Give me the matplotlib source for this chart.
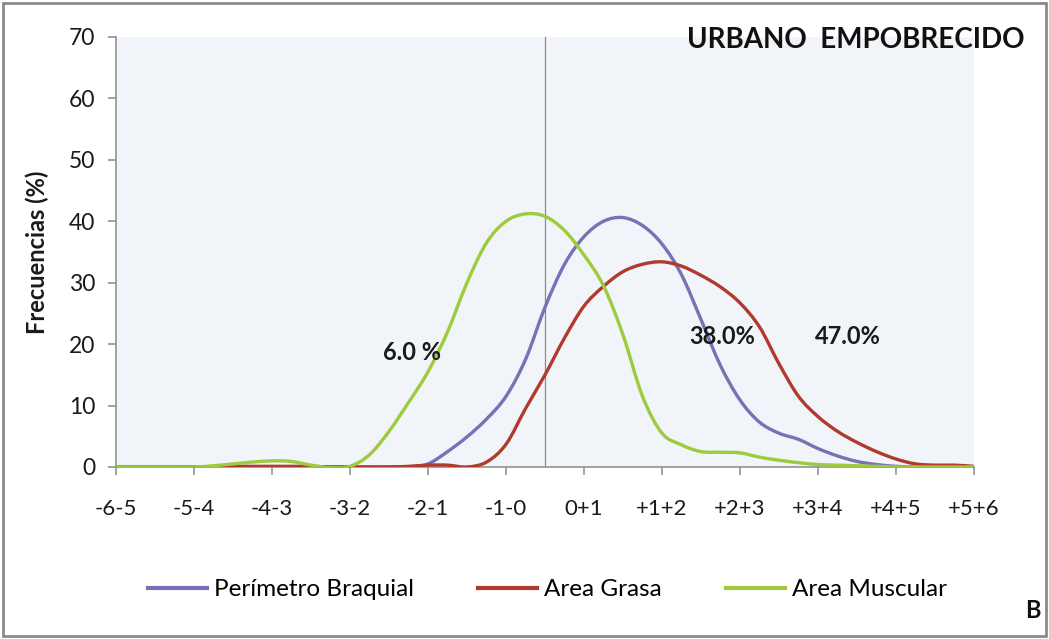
import numpy as np
import matplotlib
matplotlib.use("Agg")
import matplotlib.pyplot as plt
from matplotlib.patches import Rectangle, PathPatch
from matplotlib.path import Path
from matplotlib.lines import Line2D

plt.rcParams['font.family'] = ['Lato', 'DejaVu Sans']

# Category labels (z-score intervals) shown on the x axis
categories = ["-6-5", "-5-4", "-4-3", "-3-2", "-2-1", "-1-0",
              "0+1", "+1+2", "+2+3", "+3+4", "+4+5", "+5+6"]

# Sampling positions along the category axis (quarter steps)
x_pos = [i * 0.25 for i in range(45)]

perimetro_braquial = [
    0, 0, 0, 0, 0, 0, 0, 0, 0, 0, 0, 0, 0, 0, 0, 0,
    0.5, 2.5, 4.9, 7.8, 11.5, 17.5, 26.0, 33.0, 37.5, 40.0, 40.6, 39.3,
    36.3, 31.3, 24.0, 16.5, 10.9, 7.3, 5.5, 4.5, 3.0, 1.8, 0.9, 0.4,
    0.1, 0, 0, 0, 0,
]

area_grasa = [
    0, 0, 0, 0, 0, 0, 0.1, 0.1, 0.1, 0.1, 0.1, 0, 0, 0, 0, 0.1,
    0.3, 0.3, 0.0, 0.8, 3.7, 9.5, 15.0, 21.0, 26.2, 29.4, 31.8, 33.0,
    33.4, 32.7, 31.2, 29.3, 26.7, 22.8, 16.8, 11.5, 8.2, 5.8, 4.0, 2.5,
    1.3, 0.5, 0.3, 0.3, 0.1,
]

area_muscular = [
    0, 0, 0, 0, 0, 0.2, 0.5, 0.8, 1.0, 0.9, 0.3, -0.1, 0.1, 2.0, 5.8, 10.5,
    15.5, 22.0, 30.0, 36.5, 40.0, 41.2, 40.8, 38.5, 34.5, 29.5, 21.5, 11.5,
    5.5, 3.6, 2.5, 2.4, 2.3, 1.6, 1.1, 0.7, 0.4, 0.3, 0.2, 0.1,
    0, 0, 0, 0, 0,
]

series_names = ["Perímetro Braquial", "Area Grasa", "Area Muscular"]
series_colors = ["#7672B5", "#B03A2E", "#9DCB3C"]

# Percentages written over the curves: (text, x position, y value)
annotations = [("6.0 %", 3.79, 18.7), ("38.0%", 7.77, 21.2), ("47.0%", 9.38, 21.2)]


def smoothed_path(xs, ys):
    """Cubic Bezier path through every point (Catmull-Rom style smoothing)."""
    pts = np.column_stack([xs, ys]).astype(float)
    n = len(pts)
    verts = [pts[0]]
    codes = [Path.MOVETO]
    for i in range(n - 1):
        p0 = pts[max(i - 1, 0)]
        p1 = pts[i]
        p2 = pts[i + 1]
        p3 = pts[min(i + 2, n - 1)]
        c1 = p1 + (p2 - p0) / 6.0
        c2 = p2 - (p3 - p1) / 6.0
        verts += [c1, c2, p2]
        codes += [Path.CURVE4] * 3
    return Path(verts, codes)


fig = plt.figure(figsize=(10.49, 6.39), dpi=100)
fig.patch.set_facecolor("white")
ax = fig.add_axes([0.1106, 0.2692, 0.8179, 0.6729])
ax.set_facecolor("#F1F4F8")

handles = []
for ys, name, col in zip([perimetro_braquial, area_grasa, area_muscular],
                         series_names, series_colors):
    patch = PathPatch(smoothed_path(x_pos, ys), facecolor="none", edgecolor=col,
                      lw=2.4, capstyle="round", joinstyle="round", zorder=3)
    ax.add_patch(patch)
    handles.append(Line2D([], [], color=col, lw=3, label=name))

# Reference line at the mean
ax.axvline(5.5, color="#8C8C8C", lw=0.9, zorder=0.5)

ax.set_xlim(0, 11)
ax.set_ylim(0, 70)
ax.set_xticks(range(len(categories)))
ax.set_xticklabels(categories)
ax.set_yticks(range(0, 71, 10))

for side in ("top", "right"):
    ax.spines[side].set_visible(False)
for side in ("left", "bottom"):
    ax.spines[side].set_color("#8A8A8A")
    ax.spines[side].set_linewidth(1.1)

ax.tick_params(axis="x", length=6, width=1.1, color="#8A8A8A", pad=17,
               labelsize=16, labelcolor="#1A1A1A")
ax.tick_params(axis="y", length=6, width=1.1, color="#8A8A8A", pad=9,
               labelsize=16.5, labelcolor="#1A1A1A")

ax.set_ylabel("Frecuencias (%)", fontsize=17, fontweight="bold", labelpad=14,
              color="#1A1A1A")

for text, xp, yv in annotations:
    ax.text(xp, yv, text, fontsize=17, fontweight="bold", ha="center",
            va="center", color="#1A1A1A")

fig.text(0.977, 0.937, "URBANO  EMPOBRECIDO", fontsize=20, fontweight="bold",
         ha="right", va="center", color="#111111")

leg = fig.legend(handles=handles, loc="center", bbox_to_anchor=(0.522, 0.077),
                 ncol=3, frameon=False, fontsize=17.5, handlelength=2.4,
                 handletextpad=0.3, columnspacing=2.65)

fig.text(0.985, 0.045, "B", fontsize=17, fontweight="bold", ha="center",
         va="center", color="#111111")

# Outer frame around the whole figure
fig.add_artist(Rectangle((0.003, 0.004), 0.994, 0.992, transform=fig.transFigure,
                         fill=False, edgecolor="#8A8A8A", lw=2))

fig.savefig("out.png", dpi=100)
